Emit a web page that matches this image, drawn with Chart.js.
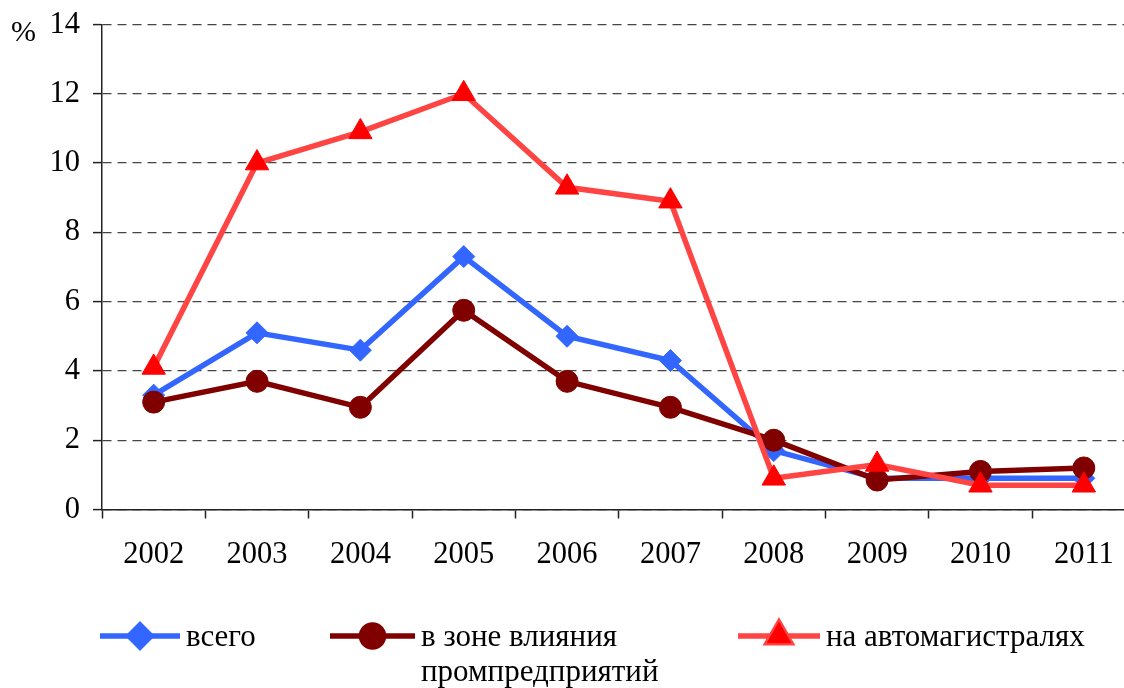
<!DOCTYPE html>
<html>
<head>
<meta charset="utf-8">
<script src="https://cdn.jsdelivr.net/npm/chart.js@4.4.1/dist/chart.umd.min.js"></script>
<style>
  html, body { margin: 0; padding: 0; background: #fff; overflow: hidden; }
  #wrap { position: relative; width: 1150px; height: 688px; }
</style>
</head>
<body>
<div id="wrap"><canvas id="chart"></canvas></div>
<script>
// Years on the horizontal axis
const years = ['2002', '2003', '2004', '2005', '2006', '2007', '2008', '2009', '2010', '2011'];

// Share of samples, %
const total      = [3.3, 5.1, 4.6, 7.3, 5.0, 4.3, 1.7, 0.9, 0.9, 0.9];
const industrial = [3.1, 3.7, 2.95, 5.75, 3.7, 2.95, 2.0, 0.85, 1.1, 1.2];
const highways   = [4.1, 10.0, 10.9, 12.0, 9.3, 8.9, 0.9, 1.3, 0.7, 0.7];

const seriesNames = ['всего', ['в зоне влияния', 'промпредприятий'], 'на автомагистралях'];
const yTicks = [0, 2, 4, 6, 8, 10, 12, 14];

const FONT = "'Liberation Serif', 'Times New Roman', serif";
const BLUE = '#3366FF';
const BROWN = '#800000';
const RED_LINE = 'rgb(255,68,68)';
const RED = '#FF0000';

const styles = [
  { line: BLUE, point: BLUE, shape: 'rectRot', r: 11 },
  { line: BROWN, point: BROWN, shape: 'circle', r: 11 },
  { line: RED_LINE, point: RED, shape: 'triangle', r: 13.5 }
];

// Unit sign next to the top of the value axis
const unitLabel = {
  id: 'unitLabel',
  afterDraw(chart) {
    const ctx = chart.ctx;
    ctx.save();
    ctx.font = '30px ' + FONT;
    ctx.fillStyle = '#000';
    ctx.textBaseline = 'middle';
    ctx.textAlign = 'left';
    ctx.fillText('%', 11, 33);
    ctx.restore();
  }
};

// Legend row below the chart: line sample with marker, then name
const bottomLegend = {
  id: 'bottomLegend',
  afterDraw(chart) {
    const ctx = chart.ctx;
    const items = [
      { x1: 100, x2: 180, y: 636 },
      { x1: 330, x2: 415, y: 636 },
      { x1: 738, x2: 820, y: 636 }
    ];
    ctx.save();
    items.forEach((it, i) => {
      const st = styles[i];
      ctx.strokeStyle = st.line;
      ctx.lineWidth = 5.5;
      ctx.lineCap = 'butt';
      ctx.beginPath();
      ctx.moveTo(it.x1, it.y);
      ctx.lineTo(it.x2, it.y);
      ctx.stroke();
      Chart.helpers.drawPoint(ctx, {
        pointStyle: st.shape, radius: st.r, rotation: 0, borderWidth: 1
      }, (it.x1 + it.x2) / 2, it.y);
      ctx.fillStyle = st.point;
      ctx.strokeStyle = st.point;
      ctx.lineWidth = 1;
      ctx.fill();
      ctx.stroke();
      ctx.fillStyle = '#000';
      ctx.font = '31px ' + FONT;
      ctx.textAlign = 'left';
      ctx.textBaseline = 'middle';
      const lines = Array.isArray(seriesNames[i]) ? seriesNames[i] : [seriesNames[i]];
      lines.forEach((t, k) => ctx.fillText(t, it.x2 + 6, it.y + 2 + k * 35));
    });
    ctx.restore();
  }
};

const makeSet = (label, data, st, order) => ({
  label, data, order,
  borderColor: st.line,
  backgroundColor: st.point,
  borderWidth: 5.5,
  pointStyle: st.shape,
  pointRadius: st.r,
  pointHoverRadius: st.r,
  pointBackgroundColor: st.point,
  pointBorderColor: st.point,
  pointBorderWidth: 1,
  tension: 0,
  clip: false
});

new Chart(document.getElementById('chart'), {
  type: 'line',
  data: {
    labels: years,
    datasets: [
      makeSet('всего', total, styles[0], 3),
      makeSet('в зоне влияния промпредприятий', industrial, styles[1], 2),
      makeSet('на автомагистралях', highways, styles[2], 1)
    ]
  },
  options: {
    responsive: true,
    maintainAspectRatio: false,
    animation: false,
    events: [],
    layout: { padding: { top: 24.5, right: 13, left: 0, bottom: 0 } },
    plugins: { legend: { display: false }, tooltip: { enabled: false } },
    scales: {
      x: {
        offset: true,
        afterFit(scale) { scale.height = 178.5; },
        grid: {
          offset: true,
          drawOnChartArea: false,
          drawTicks: true,
          tickLength: 9,
          tickColor: '#222',
          tickWidth: 1.5
        },
        border: { display: true, color: '#222', width: 1.5 },
        ticks: {
          color: '#000',
          font: { family: FONT, size: 30.5 },
          padding: 18,
          maxRotation: 0,
          autoSkip: false
        }
      },
      y: {
        min: 0,
        max: 14,
        afterFit(scale) {
          scale.width = 102;
          scale.paddingTop = 0;
          scale.paddingBottom = 0;
        },
        afterBuildTicks(scale) { scale.ticks = yTicks.map(v => ({ value: v })); },
        grid: {
          color: '#444',
          lineWidth: 1.2,
          drawTicks: true,
          tickLength: 9,
          tickColor: '#222',
          tickWidth: 1.5
        },
        border: { display: true, color: '#222', width: 1.5, dash: [9, 6] },
        ticks: {
          color: '#000',
          font: { family: FONT, size: 30.5 },
          padding: 13
        }
      }
    }
  },
  plugins: [unitLabel, bottomLegend]
});
</script>
</body>
</html>
